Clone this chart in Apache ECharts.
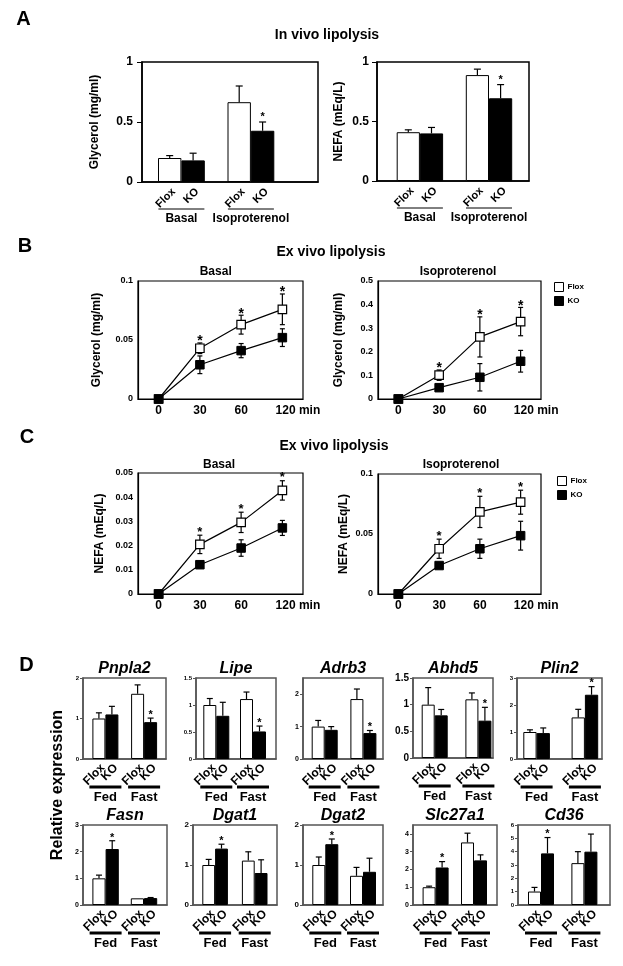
<!DOCTYPE html>
<html><head><meta charset="utf-8">
<script src="https://cdn.jsdelivr.net/npm/echarts@6/dist/echarts.min.js"></script>
<style>html,body{margin:0;padding:0;background:#fff}#c{width:623px;height:966px}</style>
</head><body><div id="c"></div><script>
// ---------------- DATA ----------------
// Panel A: in vivo lipolysis (bars: Flox, KO per group)
const aGroups = ['Basal', 'Isoproterenol'];
const aBarLabels = ['Flox', 'KO'];
const aGlyMean = [0.20, 0.18, 0.665, 0.427];   // FloxBasal, KOBasal, FloxIso, KOIso
const aGlyErr  = [0.02, 0.06, 0.135, 0.073];
const aGlyStar = [false, false, false, true];
const aNefaMean = [0.41, 0.40, 0.89, 0.695];
const aNefaErr  = [0.02, 0.05, 0.05, 0.115];
const aNefaStar = [false, false, false, true];

// Panels B & C: ex vivo lipolysis time courses
const times = ['0', '30', '60', '120'];
const timeUnit = 'min';
const bBasalFlox = [0, 0.043, 0.063, 0.076];
const bBasalFloxSd = [0, 0.0045, 0.008, 0.013];
const bBasalKO = [0, 0.029, 0.041, 0.052];
const bBasalKOSd = [0, 0.0075, 0.006, 0.0075];
const bBasalStar = [false, true, true, true];
const bIsoFlox = [0, 0.101, 0.263, 0.328];
const bIsoFloxSd = [0, 0.022, 0.085, 0.06];
const bIsoKO = [0, 0.048, 0.092, 0.16];
const bIsoKOSd = [0, 0.008, 0.058, 0.046];
const bIsoStar = [false, true, true, true];
const cBasalFlox = [0, 0.0205, 0.0296, 0.0428];
const cBasalFloxSd = [0, 0.0038, 0.0042, 0.004];
const cBasalKO = [0, 0.0121, 0.019, 0.0273];
const cBasalKOSd = [0, 0.001, 0.0034, 0.0031];
const cBasalStar = [false, true, true, true];
const cIsoFlox = [0, 0.0377, 0.0684, 0.0765];
const cIsoFloxSd = [0, 0.008, 0.013, 0.01];
const cIsoKO = [0, 0.0237, 0.0377, 0.0486];
const cIsoKOSd = [0, 0.0012, 0.008, 0.012];
const cIsoStar = [false, true, true, true];

// Panel D: relative expression, order [Flox Fed, KO Fed, Flox Fast, KO Fast]
const dGroups = ['Fed', 'Fast'];
const genes = ['Pnpla2', 'Lipe', 'Adrb3', 'Abhd5', 'Plin2', 'Fasn', 'Dgat1', 'Dgat2', 'Slc27a1', 'Cd36'];
const dMean = [
  [1.0, 1.1, 1.61, 0.91],
  [1.0, 0.8, 1.11, 0.51],
  [1.0, 0.9, 1.85, 0.8],
  [1.0, 0.8, 1.1, 0.7],
  [1.0, 0.96, 1.54, 2.38],
  [1.0, 2.1, 0.25, 0.26],
  [1.0, 1.41, 1.11, 0.8],
  [1.0, 1.52, 0.73, 0.83],
  [1.0, 2.11, 3.52, 2.51],
  [1.01, 3.87, 3.14, 4.0]
];
const dErr = [
  [0.14, 0.2, 0.22, 0.1],
  [0.12, 0.25, 0.13, 0.1],
  [0.19, 0.1, 0.31, 0.08],
  [0.32, 0.11, 0.12, 0.25],
  [0.08, 0.19, 0.3, 0.3],
  [0.12, 0.31, 0, 0.02],
  [0.14, 0.11, 0.22, 0.33],
  [0.2, 0.13, 0.21, 0.34],
  [0.06, 0.33, 0.52, 0.31],
  [0.31, 1.19, 0.86, 1.32]
];
const dStar = [
  [0,0,0,1],[0,0,0,1],[0,0,0,1],[0,0,0,1],[0,0,0,1],
  [0,1,0,0],[0,1,0,0],[0,1,0,0],[0,1,0,0],[0,1,0,0]
];
const dYMax = [2, 1.5, 2.5, 1.5, 3, 3, 2, 2, 4.5, 6];
const dYInterval = [1, 0.5, 1, 0.5, 1, 1, 1, 1, 1, 1];

// ---------------- LAYOUT ----------------
const FONT = '"Liberation Sans", Arial, Helvetica, sans-serif';
const BF = s => 'bold ' + s + 'px ' + FONT;
function fmt(v) { return v === 0 ? '0' : String(parseFloat(v.toFixed(4))); }

const option = { animation: false, backgroundColor: '#fff', grid: [], xAxis: [], yAxis: [], series: [], graphic: [], legend: [] };

function txt(x, y, text, font, rot) {
  option.graphic.push({ type: 'text', x: x, y: y, rotation: rot || 0, silent: true,
    style: { text: text, font: font, fill: '#000', align: 'center', verticalAlign: 'middle' } });
}

function addBarChart(c) {
  const gi = option.grid.length;
  const g = c.gap / c.barW;
  const pos = [0, 1, 2 + g, 3 + g];
  const xMin = -0.5 - c.padL / c.barW;
  const xMax = xMin + c.box.width / c.barW;
  option.grid.push({ left: c.box.left, top: c.box.top, width: c.box.width, height: c.box.height,
    show: true, borderColor: c.frame, borderWidth: c.frameW });
  option.xAxis.push({ gridIndex: gi, type: 'value', min: xMin, max: xMax,
    axisLine: { show: true, onZero: false, lineStyle: { color: c.frame, width: c.frameW } },
    axisTick: { show: false }, axisLabel: { show: false }, splitLine: { show: false } });
  const yLabel = { show: true, margin: c.lblMargin, fontSize: c.tickFont, fontWeight: 'bold', fontFamily: FONT, color: '#000', formatter: fmt };
  if (c.hideMax) yLabel.showMaxLabel = false;
  option.yAxis.push({ gridIndex: gi, type: 'value', min: 0, max: c.yMax, interval: c.yInt,
    axisLine: { show: true, onZero: false, lineStyle: { color: c.frame, width: c.frameW } },
    axisTick: { show: true, inside: false, length: c.tickLen, lineStyle: { color: c.frame, width: 1 } },
    axisLabel: yLabel, splitLine: { show: false },
    name: c.yName || '', nameLocation: 'middle', nameGap: c.nameGap || 0,
    nameTextStyle: { fontSize: 12, fontWeight: 'bold', fontFamily: FONT, color: '#000' } });

  option.series.push({ type: 'bar', name: 'bars', xAxisIndex: gi, yAxisIndex: gi, barWidth: '100%', silent: true, z: 2,
    data: pos.map((x, i) => ({ value: [x, c.mean[i]],
      itemStyle: { color: i % 2 ? '#000' : '#fff', borderColor: '#000', borderWidth: 1 } })) });

  option.series.push({ type: 'custom', xAxisIndex: gi, yAxisIndex: gi, silent: true, clip: false, z: 3,
    encode: { x: 0, y: 1 },
    data: pos.map((x, i) => [x, c.mean[i], c.err[i], c.star[i] ? 1 : 0]),
    renderItem: (params, api) => {
      const x = api.value(0), m = api.value(1), e = api.value(2), s = api.value(3);
      const p0 = api.coord([x, m]), p1 = api.coord([x, m + e]);
      const ch = [];
      if (e > 0) {
        ch.push({ type: 'line', shape: { x1: p0[0], y1: p0[1], x2: p1[0], y2: p1[1] }, style: { stroke: '#000', lineWidth: 1.2 } });
        ch.push({ type: 'line', shape: { x1: p1[0] - c.cap, y1: p1[1], x2: p1[0] + c.cap, y2: p1[1] }, style: { stroke: '#000', lineWidth: 1.2 } });
      }
      if (s) ch.push({ type: 'text', x: p1[0], y: p1[1] - c.starOff,
        style: { text: '*', font: BF(c.starFont), fill: '#000', align: 'center', verticalAlign: 'middle' } });
      return { type: 'group', children: ch };
    } });

  option.series.push({ type: 'custom', xAxisIndex: gi, yAxisIndex: gi, silent: true, clip: false, z: 3,
    encode: { x: 0, y: 1 },
    data: pos.map(x => [x, 0]),
    renderItem: (params, api) => {
      const p = api.coord([api.value(0), 0]);
      return { type: 'text', x: p[0] + c.lblDx, y: p[1] + c.lblDy, rotation: Math.PI / 4,
        style: { text: aBarLabels[params.dataIndex % 2], font: BF(c.lblFont), fill: '#000', align: 'right', verticalAlign: 'middle' } };
    } });

  option.series.push({ type: 'custom', xAxisIndex: gi, yAxisIndex: gi, silent: true, clip: false, z: 3,
    encode: { x: 0, y: 1 },
    data: [[(pos[0] + pos[1]) / 2, 0], [(pos[2] + pos[3]) / 2, 0]],
    renderItem: (params, api) => {
      const p = api.coord([api.value(0), 0]);
      const half = c.ulHalf;
      return { type: 'group', children: [
        { type: 'line', shape: { x1: p[0] - half, y1: p[1] + c.ulDy, x2: p[0] + half, y2: p[1] + c.ulDy }, style: { stroke: '#000', lineWidth: c.ulW } },
        { type: 'text', x: p[0], y: p[1] + c.grpDy, style: { text: c.groups[params.dataIndex], font: BF(c.grpFont), fill: '#000', align: 'center', verticalAlign: 'middle' } }
      ] };
    } });
}

function addLineChart(c) {
  const gi = option.grid.length;
  option.grid.push({ left: c.box.left, top: c.box.top, width: c.box.width, height: c.box.height,
    show: true, borderColor: '#000', borderWidth: 1.2 });
  option.xAxis.push({ gridIndex: gi, type: 'category', data: times, boundaryGap: true,
    axisLine: { show: true, onZero: false, lineStyle: { color: '#000', width: 1.2 } }, axisTick: { show: false },
    axisLabel: { interval: 0, hideOverlap: false, margin: 6, fontSize: 12, fontWeight: 'bold', fontFamily: FONT, color: '#000',
      formatter: v => v === times[times.length - 1] ? '{p|' + v + ' ' + timeUnit + '}' : v,
      rich: { p: { padding: [0, 0, 0, 31], fontSize: 12, fontWeight: 'bold', fontFamily: FONT, color: '#000' } } },
    splitLine: { show: false } });
  option.yAxis.push({ gridIndex: gi, type: 'value', min: 0, max: c.yMax, interval: c.yInt,
    axisLine: { show: true, onZero: false, lineStyle: { color: '#000', width: 1.2 } }, axisTick: { show: false },
    axisLabel: { margin: 5, fontSize: 9, fontWeight: 'bold', fontFamily: FONT, color: '#000', formatter: fmt },
    splitLine: { show: false },
    name: c.yName, nameLocation: 'middle', nameGap: c.nameGap,
    nameTextStyle: { fontSize: 12, fontWeight: 'bold', fontFamily: FONT, color: '#000' } });

  const errSeries = (mean, sd, star) => ({ type: 'custom', xAxisIndex: gi, yAxisIndex: gi, silent: true, clip: false, z: 1,
    encode: { x: 0, y: 1 },
    data: mean.map((m, i) => [i, m, sd[i], star && star[i] ? 1 : 0]),
    renderItem: (params, api) => {
      const i = api.value(0), m = api.value(1), s = api.value(2), st = api.value(3);
      const pt = api.coord([i, m + s]), pb = api.coord([i, m - s]);
      const ch = [];
      if (s > 0) {
        ch.push({ type: 'line', shape: { x1: pt[0], y1: pt[1], x2: pb[0], y2: pb[1] }, style: { stroke: '#000', lineWidth: 1.2 } });
        ch.push({ type: 'line', shape: { x1: pt[0] - 2.5, y1: pt[1], x2: pt[0] + 2.5, y2: pt[1] }, style: { stroke: '#000', lineWidth: 1.2 } });
        ch.push({ type: 'line', shape: { x1: pb[0] - 2.5, y1: pb[1], x2: pb[0] + 2.5, y2: pb[1] }, style: { stroke: '#000', lineWidth: 1.2 } });
      }
      if (st) ch.push({ type: 'text', x: pt[0], y: pt[1] - c.starOff,
        style: { text: '*', font: BF(c.starFont), fill: '#000', align: 'center', verticalAlign: 'middle' } });
      return { type: 'group', children: ch };
    } });
  option.series.push(errSeries(c.flox, c.floxSd, c.star));
  option.series.push(errSeries(c.ko, c.koSd, null));
  option.series.push({ type: 'line', name: 'Flox', xAxisIndex: gi, yAxisIndex: gi, data: c.flox, z: 3, silent: true,
    symbol: 'rect', symbolSize: 8.5, lineStyle: { color: '#000', width: 1.2 },
    itemStyle: { color: '#fff', borderColor: '#000', borderWidth: 1.2 } });
  option.series.push({ type: 'line', name: 'KO', xAxisIndex: gi, yAxisIndex: gi, data: c.ko, z: 4, silent: true,
    symbol: 'rect', symbolSize: 8.5, lineStyle: { color: '#000', width: 1.2 },
    itemStyle: { color: '#000', borderColor: '#000', borderWidth: 1 } });
}

// ---- Panel A ----
const aCommon = { frame: '#000', frameW: 1.5, yMax: 1, yInt: 0.5, tickLen: 5, tickFont: 12, lblMargin: 9,
  cap: 3.5, starFont: 11, starOff: 5, lblFont: 11, lblDx: 4, lblDy: 8, ulDy: 27, ulW: 1, grpDy: 37, grpFont: 12, groups: aGroups };
addBarChart(Object.assign({}, aCommon, { box: { left: 142, top: 62, width: 176, height: 120 }, barW: 23.4, padL: 16, gap: 22.7, ulHalf: 23,
  mean: aGlyMean, err: aGlyErr, star: aGlyStar, yName: 'Glycerol (mg/ml)', nameGap: 41 }));
addBarChart(Object.assign({}, aCommon, { box: { left: 377, top: 62, width: 152, height: 119 }, barW: 23.2, padL: 19.7, gap: 22.7, ulHalf: 23,
  mean: aNefaMean, err: aNefaErr, star: aNefaStar, yName: 'NEFA (mEq/L)', nameGap: 32, lblMargin: 8 }));

// ---- Panel B ----
addLineChart({ box: { left: 138, top: 281, width: 165, height: 118 }, yMax: 0.1, yInt: 0.05, yName: 'Glycerol (mg/ml)', nameGap: 35,
  flox: bBasalFlox, floxSd: bBasalFloxSd, ko: bBasalKO, koSd: bBasalKOSd, star: bBasalStar, starFont: 14, starOff: 1.5 });
addLineChart({ box: { left: 378, top: 281, width: 163, height: 118 }, yMax: 0.5, yInt: 0.1, yName: 'Glycerol (mg/ml)', nameGap: 33,
  flox: bIsoFlox, floxSd: bIsoFloxSd, ko: bIsoKO, koSd: bIsoKOSd, star: bIsoStar, starFont: 14, starOff: 1.5 });

// ---- Panel C ----
addLineChart({ box: { left: 138, top: 473, width: 165, height: 121 }, yMax: 0.05, yInt: 0.01, yName: 'NEFA (mEq/L)', nameGap: 32,
  flox: cBasalFlox, floxSd: cBasalFloxSd, ko: cBasalKO, koSd: cBasalKOSd, star: cBasalStar, starFont: 13, starOff: 3 });
addLineChart({ box: { left: 378, top: 474, width: 163, height: 120 }, yMax: 0.1, yInt: 0.05, yName: 'NEFA (mEq/L)', nameGap: 28,
  flox: cIsoFlox, floxSd: cIsoFloxSd, ko: cIsoKO, koSd: cIsoKOSd, star: cIsoStar, starFont: 13, starOff: 3 });

// ---- Panel D ----
const dBoxes = [
  { left: 83, top: 678, width: 83, height: 81 }, { left: 196, top: 678, width: 80, height: 81 },
  { left: 303, top: 678, width: 80, height: 81 }, { left: 413, top: 678, width: 80, height: 80 },
  { left: 517, top: 678, width: 85, height: 81 },
  { left: 83, top: 825, width: 84, height: 80 }, { left: 193, top: 825, width: 84, height: 80 },
  { left: 303, top: 825, width: 80, height: 80 }, { left: 413, top: 825, width: 84, height: 80 },
  { left: 518, top: 825, width: 92, height: 80 }
];
const dBarW = [13, 13, 13, 13, 13.3, 13.2, 12.8, 13, 13, 13];
const dPadL = [9.4, 7.3, 8.7, 8.7, 6.3, 9.4, 9.3, 9.3, 9.6, 10];
const dGap = [12.7, 10.7, 12.7, 17.7, 21.7, 12, 14, 11.7, 12.4, 17.4];
const dTickFont = [6, 6, 7, 10, 6, 7, 8, 8, 7, 6];
genes.forEach((gname, k) => {
  addBarChart({ box: dBoxes[k], barW: dBarW[k], padL: dPadL[k], gap: dGap[k], frame: '#555', frameW: 1.5,
    yMax: dYMax[k], yInt: dYInterval[k], hideMax: (dYMax[k] / dYInterval[k]) % 1 !== 0,
    tickLen: 3, tickFont: dTickFont[k], lblMargin: 4, cap: 3, starFont: 11, starOff: 3.2,
    lblFont: 12, lblDx: 4, lblDy: 7, ulDy: 28, ulW: 3, ulHalf: 16, grpDy: 38, grpFont: 13, groups: dGroups,
    mean: dMean[k], err: dErr[k], star: dStar[k] });
  const b = dBoxes[k];
  txt(b.left + b.width / 2, b.top - 9, gname, 'italic bold 16px ' + FONT);
});

// ---- Titles / letters ----
txt(23.5, 19.5, 'A', BF(20));
txt(25, 246, 'B', BF(20));
txt(27, 437, 'C', BF(20));
txt(26.5, 665, 'D', BF(20));
txt(327, 35, 'In vivo lipolysis', BF(14));
txt(331, 252, 'Ex vivo lipolysis', BF(14));
txt(215.7, 271.7, 'Basal', BF(12));
txt(458, 271.7, 'Isoproterenol', BF(12));
txt(334, 446, 'Ex vivo lipolysis', BF(14));
txt(219, 465, 'Basal', BF(12));
txt(461, 465, 'Isoproterenol', BF(12));
txt(58, 785, 'Relative expression', BF(16), Math.PI / 2);

// ---- Legends ----
const legendData = [
  { name: 'Flox', icon: 'rect', itemStyle: { color: '#fff', borderColor: '#000', borderWidth: 1 } },
  { name: 'KO', icon: 'rect', itemStyle: { color: '#000', borderColor: '#000', borderWidth: 1 } }
];
const legendBase = { orient: 'vertical', itemWidth: 9, itemHeight: 9, itemGap: 4, padding: 0, selectedMode: false,
  textStyle: { fontSize: 8, fontWeight: 'bold', fontFamily: FONT, color: '#000', padding: [0, 0, 0, -1] }, data: legendData };
option.legend.push(Object.assign({}, legendBase, { left: 554, top: 282 }));
option.legend.push(Object.assign({}, legendBase, { left: 557, top: 476 }));

const chart = echarts.init(document.getElementById('c'), null, { renderer: 'canvas' });
chart.setOption(option);
</script></body></html>
